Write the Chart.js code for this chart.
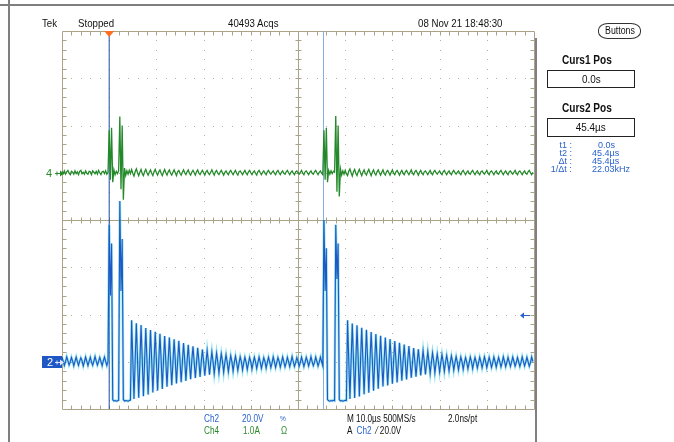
<!DOCTYPE html>
<html>
<head>
<meta charset="utf-8">
<title>Tek capture</title>
<script src="https://cdn.jsdelivr.net/npm/chart.js@4.4.0/dist/chart.umd.min.js"></script>
<style>
  body {
    margin: 0;
    width: 674px;
    height: 442px;
    overflow: hidden;
    position: relative;
    background: #fff;
    font-family: "Liberation Sans", Arial, sans-serif;
  }
  #scope { position: absolute; left: 0; top: 0; }
  .t {
    position: absolute; white-space: nowrap; font-size: 11px; line-height: 12px; color: #111;
    transform: scaleX(0.88); transform-origin: 0 0;
  }
  .foot { font-size: 10px; transform: scaleX(0.82); }
  .blue { color: #2a62cc; }
  .green { color: #2a8a2a; }
  .rule { position: absolute; background: #7f7f7f; }
  .head { font-weight: bold; font-size: 12px; transform: scaleX(0.84); }
  .box {
    position: absolute; left: 547px; width: 86px; border: 1px solid #222;
    text-align: center; font-size: 11px; line-height: 16px; color: #111;
  }
  .box span { display: inline-block; transform: scaleX(0.9); }
  #buttons {
    position: absolute; left: 598px; top: 23px; width: 41px; height: 14px;
    border: 1px solid #333; border-radius: 10px / 7px;
    font-size: 10px; line-height: 14px; text-align: center; color: #111;
  }
  #buttons span { display: inline-block; transform: scaleX(0.88); }
  .list { font-size: 9.5px; line-height: 9px; transform: scaleX(0.95); }
  .mark { position: absolute; font-size: 11px; line-height: 12px; }
</style>
</head>
<body>
<canvas id="scope" width="674" height="442"></canvas>

<div class="rule" style="left:0; top:4px; width:674px; height:2px;"></div>
<div class="rule" style="left:8px; top:0; width:2px; height:442px;"></div>
<div class="rule" style="left:535px; top:38px; width:2px; height:404px;"></div>

<div class="t" style="left:42px; top:17px;">Tek</div>
<div class="t" style="left:78px; top:17px;">Stopped</div>
<div class="t" style="left:228px; top:17px;">40493 Acqs</div>
<div class="t" style="left:418px; top:17px;">08 Nov 21 18:48:30</div>

<div id="buttons"><span>Buttons</span></div>
<div class="t head" style="left:562px; top:54px;">Curs1 Pos</div>
<div class="box" style="top:70px; height:16px;"><span>0.0s</span></div>
<div class="t head" style="left:562px; top:102px;">Curs2 Pos</div>
<div class="box" style="top:118px; height:17px;"><span>45.4µs</span></div>

<div class="t list blue" style="left:552px; top:140px; width:21px; text-align:right;">t1 :</div>
<div class="t list blue" style="left:598px; top:140px;">0.0s</div>
<div class="t list blue" style="left:552px; top:148px; width:21px; text-align:right;">t2 :</div>
<div class="t list blue" style="left:592px; top:148px;">45.4µs</div>
<div class="t list blue" style="left:552px; top:156px; width:21px; text-align:right;">Δt :</div>
<div class="t list blue" style="left:592px; top:156px;">45.4µs</div>
<div class="t list blue" style="left:548px; top:164px; width:25px; text-align:right;">1/Δt :</div>
<div class="t list blue" style="left:592px; top:164px;">22.03kHz</div>

<div class="t foot blue" style="left:204px; top:413px;">Ch2</div>
<div class="t foot blue" style="left:242px; top:413px;">20.0V</div>
<div class="t foot blue" style="left:280px; top:413px; font-size:8px;">%</div>
<div class="t foot green" style="left:204px; top:425px;">Ch4</div>
<div class="t foot green" style="left:243px; top:425px;">1.0A</div>
<div class="t foot green" style="left:281px; top:425px;">Ω</div>
<div class="t foot" style="left:347px; top:413px;">M 10.0µs 500MS/s</div>
<div class="t foot" style="left:448px; top:413px;">2.0ns/pt</div>
<div class="t foot" style="left:347px; top:425px;">A &nbsp;<span class="blue">Ch2</span> &nbsp;⁄ 20.0V</div>

<div id="mark4" class="mark green" style="left:46px;">4</div>
<div id="mark2" class="mark" style="left:47px; color:#fff;">2</div>

<script>
// record settings: 500MS/s decimated to one sample every 0.25 µs
const sampleStep = 0.25; // µs
const recordStart = -10; // µs, left edge of screen

const timePerDiv = 10; // µs
const voltsPerDiv = 20; // Ch2
const ampsPerDiv = 1; // Ch4
const minorPerDiv = 5;

const cursorTimes = [0, 45.4];
const triggerTime = 0;
const triggerLevel = 20.0; // V on Ch2

// Ch2, volts
const ch2Volts = [
  1.9, 0.2, -1.6, 0.1, 2.1, 0.4, -1.4, -0.1, 1.8, 0.3, -1.7, 0.2, 2.0, 0.1, -1.5, 0.3, 1.7, 0.4, -1.8, 0.0,
  2.0, 0.2, -1.6, 0.3, 1.9, -0.1, -1.5, 0.2, 2.2, 0.3, -1.4, 0.1, 1.8, 0.2, -1.7, 0.4, 2.0, 0.1, -1.6, 0.2,
  58, 28, 50, -16.1, -16.6, -16.4, -16.7, -16.5, -16.3, 68, 30, 52, -16.0, -16.6, -16.4, -16.5, -16.7, -16.4, -16.2, 17.6,
  1.2, -15.8, 0.4, 16.3, 0.9, -15.2, -0.3, 15.5, 1.1, -14.6, 0.2, 14.3, 0.6, -13.9, -0.4, 13.4, 0.8, -13.0, 0.1, 12.7,
  0.5, -12.2, -0.2, 11.8, 0.9, -11.5, 0.3, 10.9, -0.1, -10.6, 0.6, 10.3, 0.2, -9.9, -0.5, 9.5, 0.7, -9.2, 0.0, 8.9,
  0.4, -8.7, -0.3, 7.9, 0.6, -8.1, 0.1, 7.2, -0.4, -7.4, 0.5, 6.5, 0.0, -6.9, -0.6, 5.9, 0.3, -6.4, -0.2, 5.2,
  0.1, -5.9, -0.5, 4.8, 0.2, -5.5, -0.4, 4.2, 0.0, -5.1, -0.6, 3.7, -0.1, -4.8, -0.5, 3.4, 0.2, -4.5, -0.3, 3.0,
  -0.2, -4.2, -0.6, 2.6, 0.0, -4.0, -0.4, 2.4, -0.3, -3.7, -0.7, 2.1, 0.1, -3.5, -0.5, 1.9, -0.2, -3.3, -0.6, 1.8,
  -0.1, -3.1, -0.5, 1.9, 0.0, -2.9, -0.4, 2.0, -0.2, -2.8, -0.6, 1.7, 0.1, -2.7, -0.3, 1.9, -0.1, -2.5, -0.5, 2.1,
  0.0, -2.4, -0.4, 1.8, 0.2, -2.3, -0.3, 2.0, -0.1, -2.2, -0.5, 1.9, 0.1, -2.1, -0.2, 2.2, 0.0, -2.0, -0.4, 1.8,
  0.2, -1.9, -0.3, 2.0, 0.1, -2.0, -0.2, 1.9, 0.3, -1.8, -0.1, 2.1, 0.0, -1.7, -0.3, 2.0, 0.2, -1.8, -0.2, 1.9,
  0.1, -1.7, 60, 30, 48, -16.0, -16.5, -16.7, -16.4, -16.6, -16.3, -16.5, 58, 35, 50, -16.1, -16.6, -16.4, -16.7, -16.5,
  -16.3, -16.4, 17.6, 1.0, -15.8, 0.3, 16.2, 0.8, -15.3, -0.2, 15.4, 1.0, -14.7, 0.4, 14.4, 0.5, -13.8, -0.3, 13.5, 0.9,
  -13.1, 0.2, 12.6, 0.6, -12.3, -0.1, 11.7, 0.8, -11.4, 0.2, 11.0, -0.2, -10.5, 0.5, 10.2, 0.3, -10.0, -0.4, 9.6, 0.6,
  -9.3, 0.1, 8.8, 0.4, -8.8, -0.2, 8.0, 0.5, -8.0, 0.0, 7.3, -0.3, -7.5, 0.4, 6.6, 0.1, -6.8, -0.5, 5.8, 0.2,
  -6.3, -0.3, 5.3, 0.0, -5.8, -0.6, 4.7, 0.1, -5.4, -0.4, 4.3, -0.1, -5.0, -0.5, 3.8, 0.2, -4.7, -0.4, 3.3, -0.2,
  -4.4, -0.6, 3.1, 0.0, -4.1, -0.3, 2.7, -0.4, -3.9, -0.6, 2.5, 0.1, -3.6, -0.4, 2.2, -0.2, -3.4, -0.5, 2.0, 0.0,
  -3.2, -0.4, 1.8, -0.2, -3.0, -0.6, 2.0, 0.1, -2.9, -0.3, 1.8, -0.1, -2.7, -0.5, 1.9, 0.0, -2.6, -0.4, 2.1, 0.2,
  -2.5, -0.3, 1.9, -0.1, -2.4, -0.5, 2.0, 0.1, -2.3, -0.2, 1.8, 0.0, -2.2, -0.4, 2.1, 0.2, -2.1, -0.3, 1.9, -0.1,
  -2.0, -0.2, 2.0, 0.1, -1.9, -0.4, 1.8, 0.0, -2.0, -0.3, 2.1, 0.2, -1.8, -0.1, 1.9, 0.0, -1.9, -0.4, 2.0, 0.1,
];

// Ch4, amps
const ch4Amps = [
  0.03, -0.02, 0.04, -0.03, 0.02, 0.05, -0.01, -0.04, 0.03, 0.01, -0.03, 0.04, -0.02, 0.02, -0.04, 0.03, 0.05, -0.02, 0.01, -0.03,
  0.04, -0.01, -0.03, 0.03, 0.02, -0.04, 0.04, 0.01, -0.02, 0.03, -0.03, 0.05, 0.0, -0.04, 0.02, 0.03, -0.02, 0.04, -0.03, 0.01,
  0.9, -0.15, 0.95, -0.2, 0.06, -0.04, 0.03, -0.02, 0.04, 1.19, -0.35, 1.0, -0.57, 0.1, -0.06, 0.04, -0.03, 0.05, -0.02, 0.07,
  -0.01, -0.07, 0.02, 0.08, 0.0, -0.06, 0.01, 0.07, -0.02, -0.06, 0.02, 0.07, 0.0, -0.05, 0.01, 0.06, -0.01, -0.06, 0.02, 0.07,
  0.0, -0.05, 0.02, 0.06, -0.01, -0.06, 0.01, 0.07, 0.0, -0.05, 0.02, 0.06, -0.01, -0.05, 0.01, 0.06, 0.0, -0.06, 0.02, 0.05,
  -0.01, -0.05, 0.01, 0.06, 0.0, -0.04, 0.02, 0.06, -0.01, -0.05, 0.01, 0.05, 0.0, -0.05, 0.02, 0.06, -0.01, -0.04, 0.01, 0.05,
  0.0, -0.05, 0.02, 0.05, -0.01, -0.04, 0.01, 0.06, 0.0, -0.05, 0.02, 0.05, -0.01, -0.04, 0.01, 0.05, 0.0, -0.05, 0.01, 0.04,
  -0.01, -0.04, 0.02, 0.05, 0.0, -0.04, 0.01, 0.05, -0.01, -0.05, 0.02, 0.04, 0.0, -0.04, 0.01, 0.05, -0.01, -0.04, 0.02, 0.05,
  0.0, -0.04, 0.01, 0.04, -0.01, -0.05, 0.02, 0.05, 0.0, -0.04, 0.01, 0.04, -0.01, -0.04, 0.02, 0.05, 0.0, -0.03, 0.01, 0.04,
  -0.01, -0.04, 0.02, 0.05, 0.0, -0.04, 0.01, 0.04, -0.01, -0.03, 0.02, 0.05, 0.0, -0.04, 0.01, 0.04, -0.01, -0.04, 0.02, 0.04,
  0.0, -0.03, 0.01, 0.05, -0.01, -0.04, 0.02, 0.04, 0.0, -0.04, 0.01, 0.04, -0.01, -0.03, 0.02, 0.05, 0.0, -0.04, 0.01, 0.04,
  -0.01, -0.04, 0.9, -0.15, 0.95, -0.2, 0.05, -0.03, 0.04, -0.02, 0.03, 0.01, 1.2, -0.4, 1.0, -0.5, 0.08, -0.05, 0.04, -0.03,
  0.05, -0.02, -0.06, 0.03, 0.08, 0.0, -0.07, 0.02, 0.07, -0.01, -0.06, 0.02, 0.07, 0.0, -0.06, 0.01, 0.06, -0.01, -0.05, 0.02,
  0.07, 0.0, -0.06, 0.01, 0.06, -0.01, -0.05, 0.02, 0.06, 0.0, -0.05, 0.01, 0.06, -0.01, -0.05, 0.02, 0.05, 0.0, -0.05, 0.01,
  0.06, -0.01, -0.04, 0.02, 0.05, 0.0, -0.05, 0.01, 0.05, -0.01, -0.04, 0.02, 0.05, 0.0, -0.04, 0.01, 0.06, -0.01, -0.04, 0.02,
  0.05, 0.0, -0.05, 0.01, 0.05, -0.01, -0.04, 0.02, 0.04, 0.0, -0.04, 0.01, 0.05, -0.01, -0.04, 0.02, 0.05, 0.0, -0.03, 0.01,
  0.04, -0.01, -0.04, 0.02, 0.05, 0.0, -0.04, 0.01, 0.04, -0.01, -0.04, 0.02, 0.05, 0.0, -0.03, 0.01, 0.04, -0.01, -0.04, 0.02,
  0.05, 0.0, -0.04, 0.01, 0.04, -0.01, -0.03, 0.02, 0.05, 0.0, -0.04, 0.01, 0.04, -0.01, -0.04, 0.02, 0.04, 0.0, -0.03, 0.01,
  0.05, -0.01, -0.04, 0.02, 0.04, 0.0, -0.04, 0.01, 0.04, -0.01, -0.03, 0.02, 0.05, 0.0, -0.04, 0.01, 0.04, -0.01, -0.04, 0.02,
  0.04, 0.0, -0.03, 0.01, 0.05, -0.01, -0.04, 0.02, 0.04, 0.0, -0.04, 0.01, 0.04, -0.01, -0.03, 0.02, 0.05, 0.0, -0.04, 0.01,
];

function toPoints(values) {
  return values.map((v, i) => ({ x: recordStart + i * sampleStep, y: v }));
}

function cursorLine(t) {
  return [{ x: t, y: -20 }, { x: t, y: 140 }];
}

// screen graticule: dotted divisions, centre axes, minor ticks
const graticule = {
  id: "graticule",
  beforeDatasetsDraw(chart) {
    const { ctx, scales } = chart;
    const px = (t) => Math.round(scales.x.getPixelForValue(t)) + 0.5;
    const py = (v) => Math.round(scales.volts.getPixelForValue(v)) + 0.5;
    const tMin = scales.x.min, tMax = scales.x.max;
    const vMin = scales.volts.min, vMax = scales.volts.max;
    const tMid = (tMin + tMax) / 2, vMid = (vMin + vMax) / 2;
    const tStep = timePerDiv / minorPerDiv, vStep = voltsPerDiv / minorPerDiv;

    ctx.save();
    ctx.fillStyle = "#b5b09c";
    for (let t = tMin + timePerDiv; t < tMax; t += timePerDiv) {
      if (t === tMid) continue;
      for (let v = vMin + vStep; v < vMax; v += vStep) {
        ctx.fillRect(px(t) - 0.5, py(v) - 0.5, 1, 1);
      }
    }
    for (let v = vMin + voltsPerDiv; v < vMax; v += voltsPerDiv) {
      if (v === vMid) continue;
      for (let t = tMin + tStep; t < tMax; t += tStep) {
        ctx.fillRect(px(t) - 0.5, py(v) - 0.5, 1, 1);
      }
    }

    ctx.strokeStyle = "#aaa388";
    ctx.lineWidth = 1;
    ctx.beginPath();
    ctx.rect(px(tMin), py(vMax), px(tMax) - px(tMin), py(vMin) - py(vMax));
    ctx.moveTo(px(tMid), py(vMax));
    ctx.lineTo(px(tMid), py(vMin));
    ctx.moveTo(px(tMin), py(vMid));
    ctx.lineTo(px(tMax), py(vMid));
    for (let t = tMin + tStep; t < tMax; t += tStep) {
      const x = px(t);
      ctx.moveTo(x, py(vMax)); ctx.lineTo(x, py(vMax) + 4);
      ctx.moveTo(x, py(vMin)); ctx.lineTo(x, py(vMin) - 4);
      ctx.moveTo(x, py(vMid) - 3); ctx.lineTo(x, py(vMid) + 3);
    }
    for (let v = vMin + vStep; v < vMax; v += vStep) {
      const y = py(v);
      ctx.moveTo(px(tMin), y); ctx.lineTo(px(tMin) + 4, y);
      ctx.moveTo(px(tMax), y); ctx.lineTo(px(tMax) - 4, y);
      ctx.moveTo(px(tMid) - 3, y); ctx.lineTo(px(tMid) + 3, y);
    }
    ctx.stroke();
    ctx.restore();
  },
  afterDatasetsDraw(chart) {
    const { ctx, scales, chartArea } = chart;
    ctx.save();

    // trigger position
    const tx = scales.x.getPixelForValue(triggerTime);
    ctx.fillStyle = "#ff6d1f";
    ctx.beginPath();
    ctx.moveTo(tx - 5, chartArea.top);
    ctx.lineTo(tx + 5, chartArea.top);
    ctx.lineTo(tx, chartArea.top + 6);
    ctx.closePath();
    ctx.fill();

    // trigger level on the right edge
    const ly = Math.round(scales.volts.getPixelForValue(triggerLevel)) + 0.5;
    const rx = chartArea.right - 4;
    ctx.strokeStyle = "#2a62cc";
    ctx.fillStyle = "#2a62cc";
    ctx.lineWidth = 1;
    ctx.beginPath();
    ctx.moveTo(rx, ly);
    ctx.lineTo(rx - 8, ly);
    ctx.stroke();
    ctx.beginPath();
    ctx.moveTo(rx - 10, ly);
    ctx.lineTo(rx - 6, ly - 3);
    ctx.lineTo(rx - 6, ly + 3);
    ctx.closePath();
    ctx.fill();

    // ground markers
    const left = chartArea.left;
    const g4 = Math.round(scales.amps.getPixelForValue(0)) + 0.5;
    const g2 = Math.round(scales.volts.getPixelForValue(0)) + 0.5;
    ctx.fillStyle = "#1f58c4";
    ctx.fillRect(left - 20, g2 - 6.5, 20, 12);
    const arrow = (y, color) => {
      ctx.strokeStyle = color;
      ctx.fillStyle = color;
      ctx.beginPath();
      ctx.moveTo(left - 7, y);
      ctx.lineTo(left, y);
      ctx.moveTo(left - 5, y - 2);
      ctx.lineTo(left - 5, y + 2);
      ctx.stroke();
      ctx.beginPath();
      ctx.moveTo(left + 2, y);
      ctx.lineTo(left - 2, y - 3);
      ctx.lineTo(left - 2, y + 3);
      ctx.closePath();
      ctx.fill();
    };
    arrow(g4, "#2a8a2a");
    arrow(g2, "#dfe8ff");
    ctx.restore();
  },
};

const ctx = document.getElementById("scope").getContext("2d");

const chart = new Chart(ctx, {
  type: "line",
  data: {
    datasets: [
      {
        data: cursorLine(cursorTimes[0]),
        yAxisID: "volts",
        borderColor: "#1b4ea6",
        borderWidth: 1,
        order: 6,
      },
      {
        data: cursorLine(cursorTimes[1]),
        yAxisID: "volts",
        borderColor: "#86aee2",
        borderWidth: 1,
        order: 5,
      },
      {
        // persistence of earlier acquisitions
        data: toPoints(ch2Volts),
        yAxisID: "volts",
        borderColor: "rgba(40, 200, 225, 0.5)",
        borderWidth: 2.5,
        order: 4,
      },
      {
        data: toPoints(ch2Volts),
        yAxisID: "volts",
        borderColor: "#1e58c4",
        borderWidth: 1.1,
        order: 3,
      },
      {
        data: toPoints(ch4Amps),
        yAxisID: "amps",
        borderColor: "#24892a",
        borderWidth: 1.3,
        order: 2,
      },
    ],
  },
  options: {
    responsive: false,
    animation: false,
    devicePixelRatio: 1,
    layout: { padding: { left: 62, right: 140, top: 31, bottom: 33 } },
    elements: { point: { radius: 0 }, line: { tension: 0 } },
    plugins: { legend: { display: false }, tooltip: { enabled: false } },
    scales: {
      x: { type: "linear", min: recordStart, max: recordStart + 10 * timePerDiv, display: false },
      volts: { type: "linear", min: -1 * voltsPerDiv, max: 7 * voltsPerDiv, display: false },
      amps: { type: "linear", min: -5 * ampsPerDiv, max: 3 * ampsPerDiv, display: false },
    },
  },
  plugins: [graticule],
});

// place the channel numbers on their ground levels
document.getElementById("mark4").style.top =
  Math.round(chart.scales.amps.getPixelForValue(0)) - 6 + "px";
document.getElementById("mark2").style.top =
  Math.round(chart.scales.volts.getPixelForValue(0)) - 6 + "px";
</script>
</body>
</html>
